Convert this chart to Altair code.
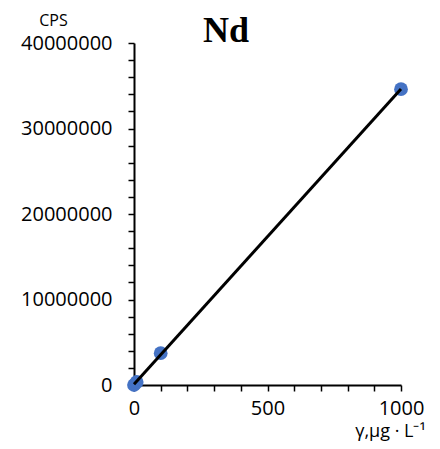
import altair as alt
import pandas as pd

conc = [0, 10, 100, 1000]
cps = [0, 350000, 3720000, 34600000]
title_text = ["Nd"]

df = pd.DataFrame({"conc": conc, "cps": cps})

y_ticks = list(range(0, 40000001, 2000000))
x_ticks = list(range(0, 1001, 100))

font = "Open Sans"

x = alt.X("conc:Q", scale=alt.Scale(domain=[0, 1000], nice=False),
          axis=alt.Axis(values=x_ticks, labelExpr="datum.value % 500 == 0 ? datum.label : ''",
                        format="d", grid=False, domainColor="black", domainWidth=2,
                        tickColor="black", tickWidth=1.5, tickSize=6, labelFontSize=20,
                        labelFont=font, labelColor="black", labelPadding=7,
                        title="γ,μg · L⁻¹", titleFont=font, titleFontSize=18, titleFontWeight="normal",
                        titleX=256, titleY=51, titleAnchor="middle", titleBaseline="alphabetic",
                        titleColor="black", labelOverlap=False, labelFlush=False))
y = alt.Y("cps:Q", scale=alt.Scale(domain=[0, 40000000], nice=False),
          axis=alt.Axis(values=y_ticks, labelExpr="datum.value % 10000000 == 0 ? datum.label : ''",
                        format="d", grid=False, domainColor="black", domainWidth=2,
                        tickColor="black", tickWidth=1.5, tickSize=6, labelFontSize=20,
                        labelFont=font, labelColor="black", labelPadding=16,
                        title="CPS", titleAngle=0, titleFont=font, titleFontSize=16,
                        titleFontWeight="normal", titleX=-81, titleY=-18, titleAnchor="middle",
                        titleBaseline="alphabetic", titleColor="black", labelOverlap=False))

points = alt.Chart(df).mark_circle(size=190, color="#4472C4", opacity=1).encode(x=x, y=y)
line = alt.Chart(df).transform_regression("conc", "cps").mark_line(
    color="black", strokeWidth=3).encode(x=x, y=y)
title = alt.Chart(pd.DataFrame({"t": title_text})).mark_text(
    font="Liberation Serif", fontSize=36, fontWeight="bold", color="black",
    align="center", baseline="alphabetic").encode(
    text="t:N", x=alt.value(92), y=alt.value(-1))

chart = alt.layer(points, line, title).properties(
    width=267, height=342,
    autosize=alt.AutoSizeParams(type="none"),
    padding={"left": 126, "top": 35, "right": 30, "bottom": 56},
).configure_view(stroke=None)

chart.save("out.html", embed_options={"renderer": "svg", "actions": False})
